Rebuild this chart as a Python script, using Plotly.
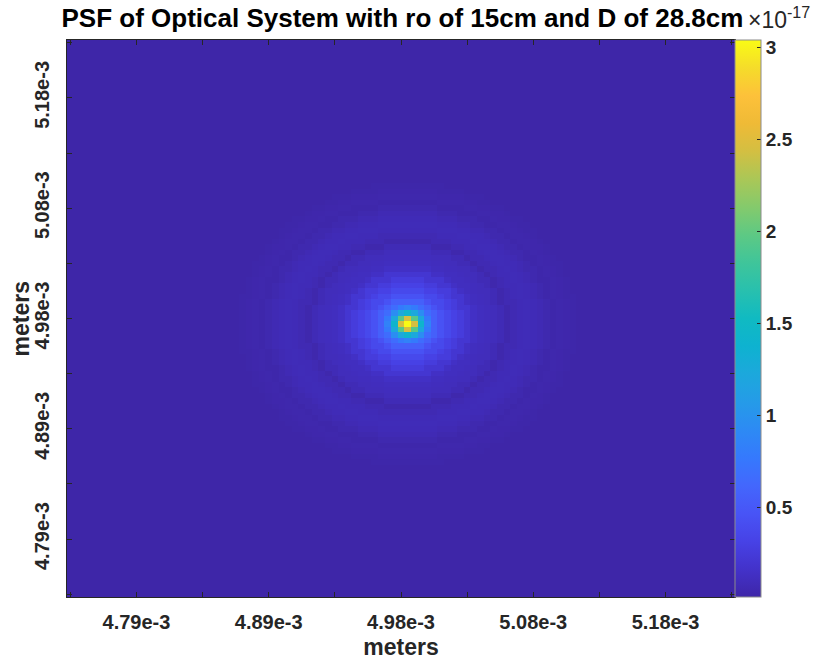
import numpy as np
import plotly.graph_objects as go

# ---------------- data ----------------
n_pixels = 101                      # image is ~101 x 101 samples
peak_col, peak_row = 52, 52         # position of the brightest sample (1-based)

# intensity (units of 1e-17) of the innermost samples, keyed by squared pixel distance
core_by_r2 = {0: 3.04, 1: 2.45, 2: 1.95, 4: 1.42, 5: 1.22, 8: 0.95,
              9: 0.85, 10: 0.78, 13: 0.66, 16: 0.56}

# intensity (units of 1e-17) at each integer radius (pixels) outside the core
ring_profile = [3.04, 2.45, 1.42, 0.85, 0.56, 0.45, 0.37, 0.31, 0.26, 0.20,
                0.14, 0.115, 0.105, 0.095, 0.075, 0.035, 0.06, 0.08, 0.085, 0.08,
                0.065, 0.045, 0.025, 0.035, 0.03, 0.02, 0.012]

x_tick_pos = [1, 11, 21, 31, 41, 51, 61, 71, 81, 91, 101]
x_tick_text = ["", "4.79e-3", "", "4.89e-3", "", "4.98e-3", "", "5.08e-3", "", "5.18e-3", ""]
y_tick_pos = [1, 11, 21, 31, 41, 51, 61, 71, 81, 91, 101]
y_tick_text = ["", "5.18e-3", "", "5.08e-3", "", "4.98e-3", "", "4.89e-3", "", "4.79e-3", ""]

cbar_ticks = [0.5, 1, 1.5, 2, 2.5, 3]
cbar_text = ["0.5", "1", "1.5", "2", "2.5", "3"]

title_text = "PSF of Optical System with ro of 15cm and D of 28.8cm"

# ---------------- build image from the read values ----------------
idx = np.arange(1, n_pixels + 1)
z = np.empty((n_pixels, n_pixels))
for i, row in enumerate(idx):
    for j, col in enumerate(idx):
        r2 = (row - peak_row) ** 2 + (col - peak_col) ** 2
        if r2 in core_by_r2:
            z[i, j] = core_by_r2[r2]
        else:
            k = int(round(np.sqrt(r2)))
            z[i, j] = ring_profile[min(k, len(ring_profile) - 1)]

parula = [
    [0.00, "#3e26a8"], [0.05, "#4332ca"], [0.10, "#4742e6"], [0.15, "#4854f6"],
    [0.20, "#4367fd"], [0.25, "#3579fd"], [0.30, "#2d8af4"], [0.35, "#259be8"],
    [0.40, "#1ca8dc"], [0.45, "#0eb2d0"], [0.50, "#10bac2"], [0.55, "#28c0ae"],
    [0.60, "#3fc59a"], [0.65, "#5dc984"], [0.70, "#84ca6c"], [0.75, "#aac757"],
    [0.80, "#d3bf42"], [0.85, "#efba36"], [0.90, "#fdc13a"], [0.95, "#f5dc2a"],
    [1.00, "#f9fb15"],
]

font_family = "Liberation Sans, Arial, Helvetica, sans-serif"
ink = "#262626"

fig = go.Figure(go.Heatmap(
    x=idx, y=idx, z=z,
    colorscale=parula,
    colorbar=dict(
        x=1.0, xanchor="left", xpad=0,
        y=0.5, yanchor="middle", ypad=0,
        len=1.0, lenmode="fraction",
        thickness=26, thicknessmode="pixels",
        outlinewidth=1, outlinecolor="#8c8c8c",
        tickmode="array", tickvals=cbar_ticks, ticktext=cbar_text,
        ticks="inside", ticklen=4, tickcolor=ink,
        tickfont=dict(family=font_family, size=19, color=ink, weight="bold"),
    ),
    hoverinfo="skip",
))

axis_common = dict(
    showline=True, linecolor=ink, linewidth=1, mirror="ticks",
    ticks="inside", ticklen=5, tickcolor=ink, tickwidth=1,
    showgrid=False, zeroline=False, automargin=False,
    tickfont=dict(family=font_family, size=20, color=ink, weight="bold"),
    tickmode="array",
)

label_font = dict(family=font_family, size=23, color=ink, weight="bold")

fig.update_layout(
    width=823, height=660,
    margin=dict(l=67, r=88, t=40, b=63),
    paper_bgcolor="white", plot_bgcolor="white",
    title=dict(text=title_text, xref="container", x=0.489, xanchor="center",
               y=0.973, yanchor="middle",
               font=dict(family=font_family, size=26, color="black", weight="bold")),
    xaxis=dict(**axis_common, tickvals=x_tick_pos, ticktext=x_tick_text,
               range=[0.5, n_pixels + 0.5], ticklabelstandoff=7,
               title=dict(text="meters", standoff=8, font=label_font)),
    yaxis=dict(**axis_common, tickvals=y_tick_pos, ticktext=y_tick_text,
               range=[n_pixels + 0.5, 0.5], tickangle=-90, ticklabelstandoff=9),
    annotations=[
        dict(text="meters", xref="paper", yref="paper", x=-0.069, y=0.5,
             xanchor="center", yanchor="middle", textangle=-90, showarrow=False,
             font=label_font),
        dict(text="×10<sup>-17</sup>", xref="paper", yref="paper",
             x=1.016, y=1.04, xanchor="left", yanchor="middle", showarrow=False,
             font=dict(family=font_family, size=23, color=ink)),
    ],
)

fig.write_html("out.html")
